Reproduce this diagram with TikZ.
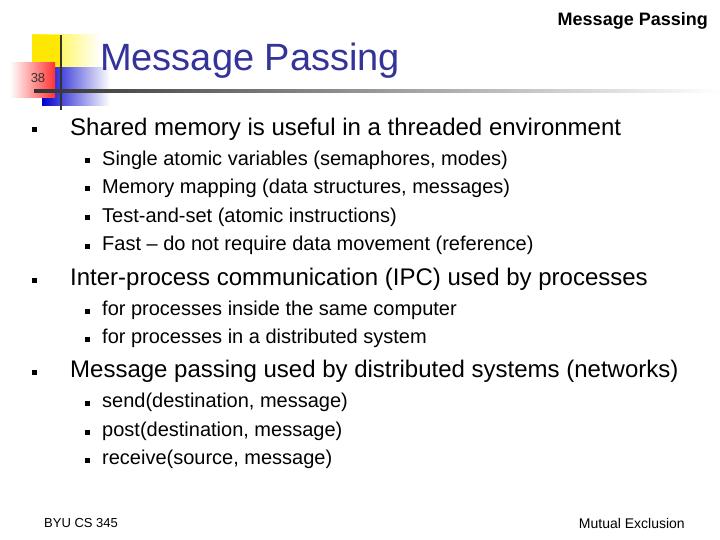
\documentclass[tikz,border=0pt]{standalone}
\usepackage{fontspec}
\setmainfont{Liberation Sans}
\definecolor{ttl}{RGB}{51,51,153}
\begin{document}
\begin{tikzpicture}[x=1pt,y=-1pt,
 l1/.style={anchor=west,font=\fontsize{24}{26}\selectfont,inner sep=0},
 l2/.style={anchor=west,font=\fontsize{20}{22}\selectfont,inner sep=0},
 b1/.style={fill=black,minimum size=5pt,inner sep=0},
 b2/.style={fill=black,minimum size=5pt,inner sep=0}]
\useasboundingbox (0,0) rectangle (720,540);
\fill[white] (0,0) rectangle (720,540);
% decoration
\shade[left color=yellow!90!orange,right color=white] (32,35) rectangle (100,70);
\fill[yellow!90!orange] (32,35) rectangle (62,70);
\shade[left color=blue!80!black,right color=white] (42,68) rectangle (110,106);
\shade[left color=white,right color=red!80] (10,63) rectangle (55,98);
\node[font=\fontsize{13}{14}\selectfont,inner sep=0,text=black!80] (num) at (38,78) {38};
\draw[line width=1.5pt,black!80] (61,35) -- (61,110);
\shade[left color=black!80,right color=white] (34,89.5) rectangle (720,92.5);
\node[anchor=north east,font=\bfseries\fontsize{18}{20}\selectfont,inner sep=0] (hdr) at (708,12) {Message Passing};
\node[anchor=west,font=\fontsize{38}{40}\selectfont,text=ttl,inner sep=0] (title) at (100,61) {Message Passing};
% bullets
\foreach \y/\t in {129/{Shared memory is useful in a threaded environment},279/{Inter-process communication (IPC) used by processes},371/{Message passing used by distributed systems (networks)}}{
 \node[b1] at (34,\y+1) {}; \node[l1] at (70,\y) {\t};}
\foreach \y/\t in {160/{Single atomic variables (semaphores, modes)},188/{Memory mapping (data structures, messages)},217/{Test-and-set (atomic instructions)},245/{Fast -- do not require data movement (reference)},310/{for processes inside the same computer},338/{for processes in a distributed system},402/{send(destination, message)},431/{post(destination, message)},459/{receive(source, message)}}{
 \node[b2] at (87,\y+1) {}; \node[l2] at (102,\y) {\t};}
\node[anchor=west,font=\fontsize{13}{14}\selectfont,inner sep=0] (f1) at (44,523) {BYU CS 345};
\node[anchor=east,font=\fontsize{14}{15}\selectfont,inner sep=0] (f2) at (685,523) {Mutual Exclusion};
\end{tikzpicture}
\end{document}
